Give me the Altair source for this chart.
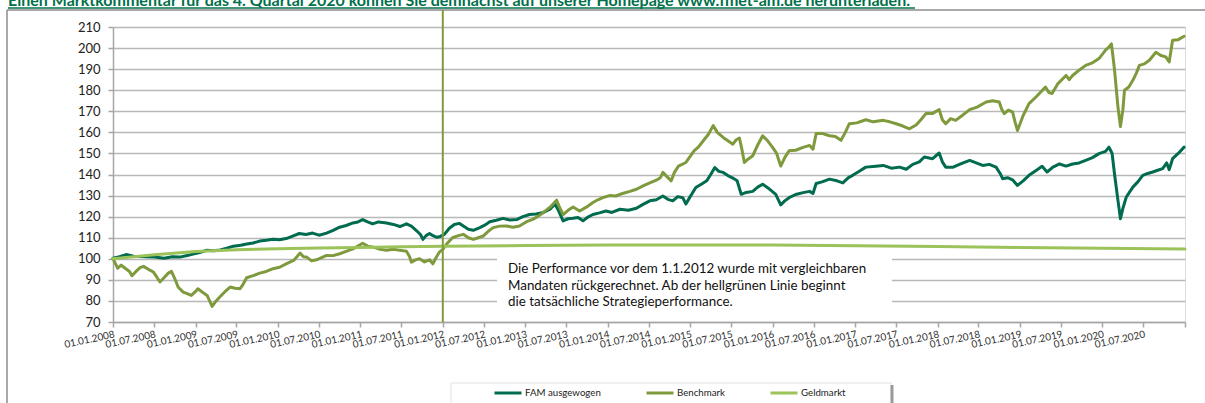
import altair as alt
import pandas as pd

# ---------------- data ----------------
fam_t = [2008.00, 2008.08, 2008.16, 2008.25, 2008.40, 2008.50, 2008.62, 2008.72, 2008.81, 2008.90,
         2008.97, 2009.05, 2009.13, 2009.22, 2009.30, 2009.38, 2009.46, 2009.55, 2009.62, 2009.70,
         2009.78, 2009.86, 2009.94, 2010.02, 2010.10, 2010.18, 2010.26, 2010.34, 2010.42, 2010.50,
         2010.59, 2010.67, 2010.75, 2010.83, 2010.91, 2010.97, 2011.03, 2011.09, 2011.15, 2011.22,
         2011.32, 2011.40, 2011.48, 2011.56, 2011.62, 2011.68, 2011.73, 2011.76, 2011.80, 2011.84,
         2011.88, 2011.93, 2011.97, 2012.02, 2012.08, 2012.14, 2012.20, 2012.25, 2012.31, 2012.37,
         2012.45, 2012.52, 2012.57, 2012.65, 2012.73, 2012.81, 2012.90, 2012.97, 2013.05, 2013.13,
         2013.22, 2013.30, 2013.36, 2013.40, 2013.46, 2013.52, 2013.58, 2013.64, 2013.70, 2013.76,
         2013.82, 2013.90, 2013.98, 2014.05, 2014.15, 2014.25, 2014.35, 2014.43, 2014.51, 2014.59,
         2014.67, 2014.73, 2014.79, 2014.85, 2014.91, 2014.95, 2015.00, 2015.07, 2015.14, 2015.20,
         2015.25, 2015.30, 2015.35, 2015.40, 2015.46, 2015.52, 2015.57, 2015.62, 2015.68, 2015.76,
         2015.82, 2015.88, 2015.95, 2016.04, 2016.10, 2016.15, 2016.20, 2016.28, 2016.37, 2016.45,
         2016.49, 2016.53, 2016.60, 2016.69, 2016.78, 2016.85, 2016.92, 2016.97, 2017.05, 2017.13,
         2017.22, 2017.34, 2017.44, 2017.54, 2017.62, 2017.70, 2017.78, 2017.84, 2017.94, 2018.02,
         2018.06, 2018.10, 2018.19, 2018.28, 2018.39, 2018.47, 2018.55, 2018.63, 2018.71, 2018.76,
         2018.79, 2018.85, 2018.91, 2018.97, 2019.04, 2019.11, 2019.20, 2019.27, 2019.33, 2019.40,
         2019.48, 2019.56, 2019.64, 2019.72, 2019.80, 2019.88, 2019.96, 2020.04, 2020.08, 2020.10,
         2020.12, 2020.15, 2020.19, 2020.22, 2020.25, 2020.29, 2020.37, 2020.43, 2020.49, 2020.55,
         2020.61, 2020.67, 2020.73, 2020.78, 2020.81, 2020.85, 2020.92, 2020.99]
fam_v = [100.3, 101.0, 102.0, 101.2, 101.0, 100.8, 100.3, 101.0, 100.8, 101.6,
         102.2, 103.0, 104.0, 103.8, 104.2, 105.0, 106.0, 106.4, 107.0, 107.5,
         108.4, 108.8, 109.3, 109.0, 109.6, 110.8, 112.0, 111.5, 112.2, 111.2,
         112.2, 113.5, 115.0, 115.8, 117.0, 117.5, 118.6, 117.5, 116.6, 117.5,
         117.0, 116.3, 115.3, 116.6, 115.5, 113.4, 111.5, 109.2, 111.0, 112.0,
         111.0, 110.2, 110.6, 111.6, 114.5, 116.3, 116.8, 115.6, 114.0, 113.5,
         114.8, 116.2, 117.6, 118.3, 119.2, 118.4, 118.7, 120.0, 121.0, 121.3,
         122.0, 123.5, 126.0, 123.0, 118.0, 119.0, 119.2, 119.6, 118.0, 119.8,
         121.0, 121.8, 122.7, 122.0, 123.5, 123.0, 124.0, 125.8, 127.5, 128.0,
         129.8, 128.2, 127.5, 129.5, 129.0, 126.0, 129.5, 133.8, 135.5, 137.0,
         140.0, 143.3, 141.5, 141.0, 139.5, 138.3, 137.0, 130.6, 131.5, 132.0,
         134.0, 135.4, 133.5, 130.6, 125.6, 127.5, 129.0, 130.5, 131.4, 132.0,
         131.0, 135.7, 136.5, 137.8, 137.0, 136.0, 138.5, 139.6, 141.5, 143.5,
         143.8, 144.3, 143.0, 143.5, 142.5, 144.8, 146.0, 148.3, 147.5, 150.2,
         146.0, 143.5, 143.5, 145.0, 146.7, 145.5, 144.3, 144.8, 143.5, 140.5,
         138.0, 138.5, 137.5, 134.8, 137.0, 139.6, 142.0, 143.9, 141.2, 143.5,
         145.0, 144.0, 145.0, 145.5, 146.7, 148.0, 149.9, 151.0, 153.0, 151.5,
         150.0, 140.0, 127.7, 119.0, 124.0, 129.3, 134.0, 136.5, 139.6, 140.5,
         141.2, 142.0, 142.8, 145.5, 142.3, 147.5, 150.0, 153.0]

bm_t = [2008.00, 2008.04, 2008.06, 2008.10, 2008.15, 2008.20, 2008.23, 2008.28, 2008.33, 2008.37,
        2008.43, 2008.49, 2008.53, 2008.57, 2008.62, 2008.67, 2008.71, 2008.75, 2008.79, 2008.85,
        2008.90, 2008.95, 2009.00, 2009.03, 2009.09, 2009.14, 2009.17, 2009.20, 2009.25, 2009.30,
        2009.36, 2009.42, 2009.48, 2009.54, 2009.58, 2009.62, 2009.70, 2009.78, 2009.86, 2009.94,
        2010.02, 2010.10, 2010.19, 2010.27, 2010.31, 2010.35, 2010.41, 2010.47, 2010.53, 2010.59,
        2010.67, 2010.75, 2010.83, 2010.91, 2010.97, 2011.03, 2011.09, 2011.16, 2011.24, 2011.32,
        2011.40, 2011.48, 2011.56, 2011.60, 2011.62, 2011.67, 2011.72, 2011.78, 2011.84, 2011.88,
        2011.92, 2011.96, 2012.00, 2012.06, 2012.12, 2012.19, 2012.25, 2012.31, 2012.37, 2012.43,
        2012.49, 2012.55, 2012.61, 2012.69, 2012.77, 2012.85, 2012.93, 2013.01, 2013.09, 2013.15,
        2013.22, 2013.30, 2013.38, 2013.42, 2013.46, 2013.52, 2013.58, 2013.66, 2013.74, 2013.82,
        2013.88, 2013.94, 2014.02, 2014.10, 2014.18, 2014.27, 2014.35, 2014.43, 2014.51, 2014.59,
        2014.64, 2014.67, 2014.72, 2014.77, 2014.81, 2014.86, 2014.95, 2015.05, 2015.10, 2015.16,
        2015.22, 2015.28, 2015.33, 2015.40, 2015.46, 2015.52, 2015.56, 2015.60, 2015.63, 2015.66,
        2015.71, 2015.76, 2015.82, 2015.88, 2015.94, 2016.00, 2016.05, 2016.10, 2016.15, 2016.20,
        2016.28, 2016.37, 2016.45, 2016.49, 2016.53, 2016.60, 2016.69, 2016.76, 2016.83, 2016.88,
        2016.93, 2017.02, 2017.13, 2017.22, 2017.34, 2017.42, 2017.50, 2017.58, 2017.66, 2017.74,
        2017.80, 2017.86, 2017.94, 2018.02, 2018.06, 2018.10, 2018.16, 2018.22, 2018.30, 2018.39,
        2018.48, 2018.59, 2018.67, 2018.75, 2018.78, 2018.81, 2018.86, 2018.91, 2018.94, 2018.97,
        2019.04, 2019.11, 2019.20, 2019.31, 2019.35, 2019.39, 2019.46, 2019.56, 2019.60, 2019.64,
        2019.72, 2019.80, 2019.88, 2019.96, 2020.04, 2020.08, 2020.11, 2020.13, 2020.15, 2020.19,
        2020.22, 2020.25, 2020.27, 2020.32, 2020.37, 2020.41, 2020.45, 2020.51, 2020.57, 2020.65,
        2020.71, 2020.77, 2020.81, 2020.85, 2020.92, 2020.99]
bm_v = [100.0, 97.0, 95.5, 97.0, 95.5, 94.0, 92.0, 94.0, 95.8, 96.4,
        95.0, 93.7, 91.5, 89.0, 91.0, 93.2, 94.0, 90.5, 86.5, 84.2,
        83.5, 82.6, 84.5, 85.8, 84.0, 82.6, 80.0, 77.4, 80.0, 82.1,
        84.5, 86.6, 86.0, 85.8, 88.0, 91.0, 92.0, 93.2, 94.0, 95.3,
        96.0, 97.6, 99.2, 102.7, 101.0, 100.8, 99.0, 99.5, 100.5, 101.6,
        101.5, 102.4, 103.5, 104.7, 106.0, 107.4, 106.0, 105.5, 104.5, 104.0,
        104.5, 104.0, 103.6, 101.0, 98.4, 99.5, 100.0, 98.5, 99.5, 97.6,
        100.5, 103.2, 104.5, 107.5, 110.0, 111.0, 111.6, 110.0, 109.2, 110.0,
        110.8, 113.0, 114.8, 115.5, 115.6, 115.0, 115.6, 117.5, 118.7, 120.0,
        122.0, 124.5, 127.8, 124.0, 121.0, 123.0, 124.6, 122.7, 124.5, 126.7,
        128.0, 129.0, 130.0, 129.8, 131.0, 132.0, 133.0, 134.6, 136.0, 137.3,
        138.5, 141.0, 139.0, 137.0, 141.0, 144.0, 145.7, 151.3, 153.0, 156.0,
        159.0, 163.2, 160.0, 157.6, 156.0, 154.4, 156.5, 157.3, 152.0, 145.7,
        147.5, 148.9, 154.0, 158.4, 156.0, 152.9, 150.0, 144.0, 148.0, 151.3,
        151.5, 152.9, 153.8, 152.0, 159.4, 159.5, 158.4, 158.0, 156.2, 160.0,
        164.1, 164.5, 166.0, 165.0, 165.7, 165.0, 164.1, 163.0, 161.7, 163.5,
        166.0, 168.9, 169.0, 170.8, 166.0, 164.1, 166.5, 165.7, 168.0, 170.8,
        172.0, 174.4, 175.0, 174.4, 171.0, 168.9, 170.5, 169.7, 165.0, 160.9,
        168.0, 173.6, 177.0, 181.5, 179.0, 178.4, 183.0, 187.0, 185.0, 187.0,
        189.5, 191.8, 193.0, 195.0, 199.0, 200.5, 202.0, 196.0, 189.4, 172.0,
        162.8, 171.0, 180.0, 181.5, 184.7, 188.0, 191.8, 192.5, 194.2, 198.0,
        196.5, 195.8, 193.4, 203.7, 204.0, 205.6]

gm_t = [2008.0, 2008.5, 2009.0, 2009.5, 2010.0, 2010.5, 2011.0, 2011.5, 2012.0,
        2013.0, 2014.0, 2015.0, 2016.0, 2017.0, 2018.0, 2019.0, 2020.0, 2021.0]
gm_v = [100.0, 101.9, 103.5, 104.3, 104.8, 105.1, 105.4, 105.7, 106.0,
        106.3, 106.5, 106.6, 106.5, 106.2, 105.8, 105.4, 105.0, 104.7]

series_names = ["FAM ausgewogen", "Benchmark", "Geldmarkt"]
series_colors = ["#006b4f", "#7f9a3c", "#9cc25a"]

start_date = "2012-01-01T00:00:00"

title_text = ("Einen Marktkommentar für das 4. Quartal 2020 können Sie demnächst auf "
              "unserer Homepage www.fmet-am.de herunterladen.")
note_text = ("Die Performance vor dem 1.1.2012 wurde mit vergleichbaren\n"
             "Mandaten rückgerechnet. Ab der hellgrünen Linie  beginnt\n"
             "die tatsächliche Strategieperformance.")

y_ticks = list(range(70, 211, 10))


def to_date(t):
    y = int(t)
    a = pd.Timestamp(year=y, month=1, day=1)
    b = pd.Timestamp(year=y + 1, month=1, day=1)
    d = a + (b - a) * (t - y)
    return d.strftime("%Y-%m-%dT00:00:00")


rows = []
for name, ts, vs in zip(series_names, [fam_t, bm_t, gm_t], [fam_v, bm_v, gm_v]):
    for t, v in zip(ts, vs):
        rows.append({"date": to_date(t), "value": v, "series": name})
df = pd.DataFrame(rows)

FONT = "Lato"

x_vals = []
for yr in range(2008, 2022):
    x_vals.append(alt.DateTime(year=yr, month=1, date=1))
    if yr < 2021:
        x_vals.append(alt.DateTime(year=yr, month=7, date=1))

x_enc = alt.X(
    "date:T",
    scale=alt.Scale(domain=[alt.DateTime(year=2008, month=1, date=1),
                            alt.DateTime(year=2021, month=1, date=1)]),
    axis=alt.Axis(values=x_vals, grid=False, title=None,
                  labelExpr="year(datum.value) == 2021 ? '' : timeFormat(datum.value, '%d.%m.%Y')",
                  labelAngle=348, labelAlign="right", labelBaseline="top",
                  labelFont=FONT, labelFontSize=10, labelColor="#333333",
                  labelPadding=2, labelOverlap=False, labelFlush=False, labelBound=False,
                  tickSize=5, tickColor="#a6a6a6", tickWidth=1.5,
                  domainColor="#a6a6a6", domainWidth=1.5),
)
y_enc = alt.Y(
    "value:Q",
    scale=alt.Scale(domain=[70, 210], nice=False, zero=False),
    axis=alt.Axis(values=y_ticks, title=None, grid=True, gridColor="#b8b8b8", gridWidth=1.5,
                  labelFont=FONT, labelFontSize=13, labelColor="#222222", labelPadding=8,
                  tickSize=5, tickColor="#a6a6a6", tickWidth=1.5,
                  domainColor="#a6a6a6", domainWidth=1.5),
)
color_enc = alt.Color(
    "series:N",
    scale=alt.Scale(domain=series_names, range=series_colors),
    legend=alt.Legend(title=None, orient="none", direction="horizontal",
                      legendX=380, legendY=351, symbolType="stroke", symbolSize=729,
                      symbolStrokeWidth=3, labelFont=FONT, labelFontSize=9.7,
                      labelColor="#222222", columnPadding=39, labelOffset=2,
                      padding=0, offset=0),
)

base = alt.Chart(df)
lines = [
    base.transform_filter(alt.datum.series == name)
    .mark_line(strokeWidth=3, strokeJoin="round", strokeCap="round")
    .encode(x=x_enc, y=y_enc, color=color_enc)
    for name in series_names
]

one = pd.DataFrame({"k": [0]})

# white annotation box that hides gridlines
note_box = alt.Chart(one).mark_rect(fill="white").encode(
    x=alt.value(384), x2=alt.value(779), y=alt.value(225), y2=alt.value(293))
note = alt.Chart(one).mark_text(
    text=note_text, lineBreak="\n", lineHeight=16.5, align="left", baseline="top",
    font=FONT, fontSize=13.4, color="#111111").encode(x=alt.value(395), y=alt.value(235))

start_rule = alt.Chart(pd.DataFrame({"date": [start_date]})).mark_rule(
    color="#7f9a3c", strokeWidth=2).encode(x="date:T", y=alt.value(-17), y2=alt.value(295))

# frame, title and legend box
frame_top = alt.Chart(one).mark_rule(color="#8c8c8c", strokeWidth=1.5).encode(
    x=alt.value(-106), x2=alt.value(1092), y=alt.value(-17))
frame_left = alt.Chart(one).mark_rule(color="#8c8c8c", strokeWidth=1.5).encode(
    x=alt.value(-106), y=alt.value(-17), y2=alt.value(376))
title = alt.Chart(one).mark_text(
    text=title_text, align="left", baseline="alphabetic", font=FONT, fontSize=16,
    fontWeight="bold", color="#00704a").encode(x=alt.value(-105), y=alt.value(-21))
underline = alt.Chart(one).mark_rule(color="#00704a", strokeWidth=1.3).encode(
    x=alt.value(-105), x2=alt.value(802), y=alt.value(-19))
legend_box = alt.Chart(one).mark_rect(fill="white", stroke="#e2e2e2", strokeWidth=1).encode(
    x=alt.value(338), x2=alt.value(778), y=alt.value(356), y2=alt.value(390))
legend_shadow = alt.Chart(one).mark_rule(color="#9a9a9a", strokeWidth=3).encode(
    x=alt.value(779), y=alt.value(358), y2=alt.value(390))

chart = alt.layer(
    note_box, frame_top, frame_left, legend_box, legend_shadow,
    *lines, start_rule, note, title, underline,
).properties(
    width=1072, height=295,
    padding={"left": 113, "top": 27, "right": 20, "bottom": 81},
    autosize=alt.AutoSizeParams(type="none"),
).configure_view(stroke=None).configure(background="white")

chart.save("out.html", embed_options={"renderer": "svg", "actions": False})
